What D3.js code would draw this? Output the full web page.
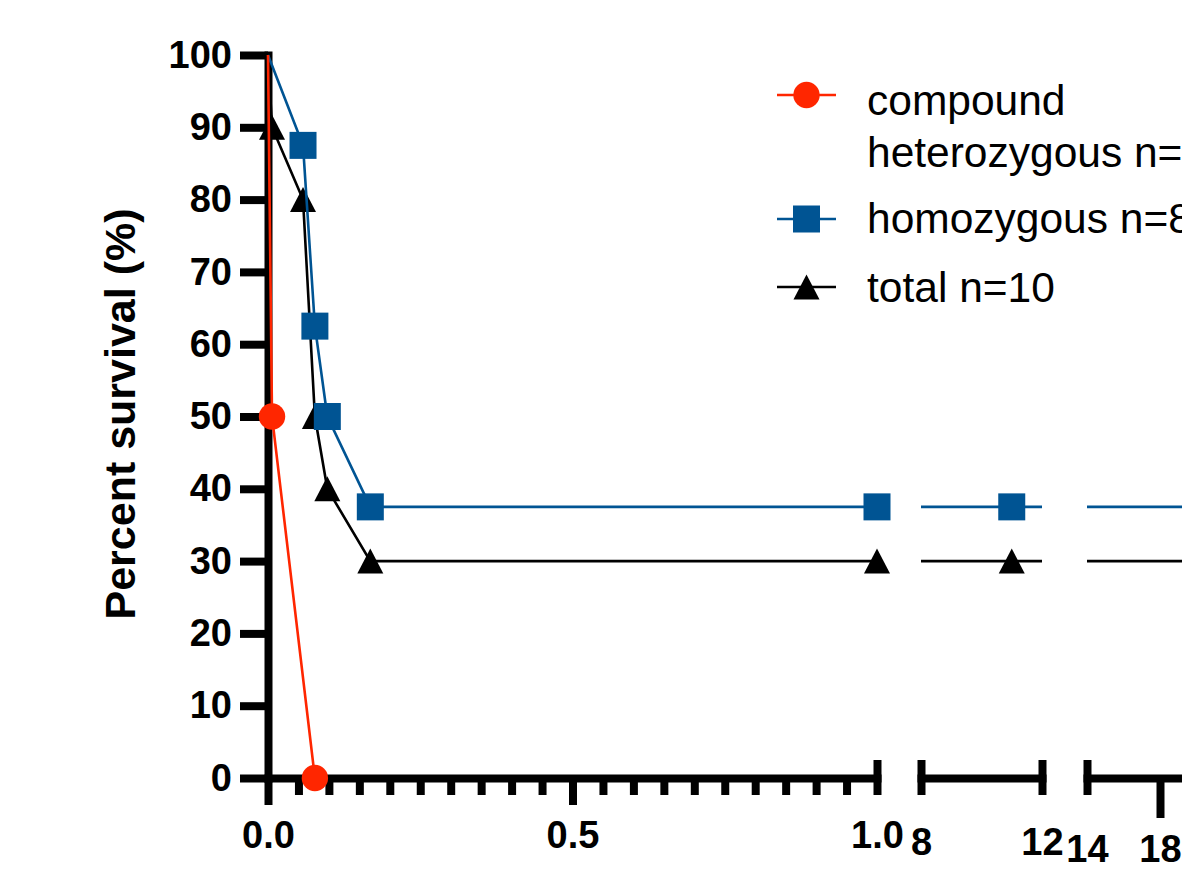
<!DOCTYPE html>
<html>
<head>
<meta charset="utf-8">
<script src="https://cdn.jsdelivr.net/npm/d3@7"></script>
<style>
  body { margin: 0; background: #fff; }
  svg { display: block; }
</style>
</head>
<body>
<svg id="chart"></svg>
<script>
// survival data (time in years, percent surviving)
const compoundTime = [0, 0.0066, 0.077];
const compoundSurv = [100, 50, 0];
const homoTime = [0, 0.0575, 0.077, 0.0974, 0.168, 1.0, 11, 21];
const homoSurv = [100, 87.5, 62.5, 50, 37.5, 37.5, 37.5, 37.5];
const totalTime = [0, 0.0066, 0.0575, 0.077, 0.0974, 0.168, 1.0, 11, 21];
const totalSurv = [100, 90, 80, 50, 40, 30, 30, 30, 30];

const legendLabels = [["compound", "heterozygous n=2"], ["homozygous n=8"], ["total n=10"]];
const yTicks = [0, 10, 20, 30, 40, 50, 60, 70, 80, 90, 100];
const seg1Minor = d3.range(21).map(i => i / 20);
const seg1Major = [0, 0.5, 1.0];
const seg2Ticks = [8, 12];
const seg3Ticks = [14, 18];
const yLabel = "Percent survival (%)";

const width = 1182, height = 891;
const font = '"Liberation Sans", Arial, sans-serif';
const red = "#ff2600", blue = "#005493";

const svg = d3.select("#chart").attr("width", width).attr("height", height);

const y = d3.scaleLinear().domain([0, 100]).range([778, 55]);
const axisY = 778;

// broken x axis: three segments
const segments = [
  { scale: d3.scaleLinear().domain([0, 1]).range([268, 877]), clip: [0, 877], labelY: 70, fmt: d3.format(".1f") },
  { scale: d3.scaleLinear().domain([8, 12]).range([921, 1042]), clip: [921, 1042], labelY: 77, fmt: d3.format("d") },
  { scale: d3.scaleLinear().domain([14, 22]).range([1087, 1233]), clip: [1087, 1300], labelY: 84, fmt: d3.format("d") }
];

function segFor(t) {
  return segments.find(s => t >= s.scale.domain()[0] && t <= s.scale.domain()[1]) || segments[0];
}
function xPos(t) { return segFor(t).scale(t); }

const defs = svg.append("defs");
segments.forEach((s, i) => {
  defs.append("clipPath").attr("id", "clip" + i)
    .append("rect")
    .attr("x", s.clip[0]).attr("y", 0)
    .attr("width", s.clip[1] - s.clip[0]).attr("height", height);
});

// ---- axes ----
function styleAxis(g) {
  g.attr("font-size", 38).attr("font-family", font).attr("font-weight", "bold");
  g.selectAll("path.domain").attr("stroke", "#000").attr("stroke-width", 8).attr("stroke-linecap", "square");
  g.selectAll(".tick line").attr("stroke", "#000").attr("stroke-width", 8);
  g.selectAll(".tick text").attr("fill", "#000");
}

const gy = svg.append("g")
  .attr("transform", "translate(268,0)")
  .call(d3.axisLeft(y).tickValues(yTicks).tickSize(28).tickPadding(8).tickSizeOuter(0));
styleAxis(gy);

// segment 1
const g1 = svg.append("g")
  .attr("transform", `translate(0,${axisY})`)
  .call(d3.axisBottom(segments[0].scale).tickValues(seg1Minor).tickSizeOuter(0)
    .tickFormat(d => seg1Major.some(m => Math.abs(m - d) < 1e-9) ? segments[0].fmt(d) : ""));
styleAxis(g1);
g1.selectAll(".tick line")
  .attr("y1", d => Math.abs(d - 1) < 1e-9 ? -18 : 0)
  .attr("y2", d => Math.abs(d - 1) < 1e-9 ? 17 : (seg1Major.some(m => Math.abs(m - d) < 1e-9) ? 27 : 17));
g1.selectAll(".tick text").attr("y", segments[0].labelY).attr("dy", null);

// segment 2
const g2 = svg.append("g")
  .attr("transform", `translate(0,${axisY})`)
  .call(d3.axisBottom(segments[1].scale).tickValues(seg2Ticks).tickSizeOuter(0).tickFormat(segments[1].fmt));
styleAxis(g2);
g2.selectAll(".tick line").attr("y1", -18).attr("y2", 17);
g2.selectAll(".tick text").attr("y", segments[1].labelY).attr("dy", null);

// segment 3
const g3 = svg.append("g")
  .attr("transform", `translate(0,${axisY})`)
  .call(d3.axisBottom(segments[2].scale).tickValues(seg3Ticks).tickSizeOuter(0).tickFormat(segments[2].fmt));
styleAxis(g3);
g3.selectAll(".tick line")
  .attr("y1", d => d === 14 ? -18 : 0)
  .attr("y2", d => d === 14 ? 17 : 40);
g3.selectAll(".tick text").attr("y", segments[2].labelY).attr("dy", null);

// y axis title
svg.append("text")
  .attr("transform", "translate(135,414) rotate(-90)")
  .attr("text-anchor", "middle")
  .attr("font-family", font).attr("font-weight", "bold").attr("font-size", 43)
  .text(yLabel);

// ---- series ----
const triPath = "M0,-12.5L13,12.5L-13,12.5Z";
const series = [
  { t: totalTime, s: totalSurv, color: "#000", shape: "triangle" },
  { t: homoTime, s: homoSurv, color: blue, shape: "square" },
  { t: compoundTime, s: compoundSurv, color: red, shape: "circle" }
];

function drawMarker(g, shape, color, cx, cy) {
  if (shape === "circle") {
    g.append("circle").attr("cx", cx).attr("cy", cy).attr("r", 13.2).attr("fill", color);
  } else if (shape === "square") {
    g.append("rect").attr("x", cx - 13.5).attr("y", cy - 13.5).attr("width", 27).attr("height", 27).attr("fill", color);
  } else {
    g.append("path").attr("d", triPath).attr("transform", `translate(${cx},${cy})`).attr("fill", color);
  }
}

series.forEach(sr => {
  const pts = sr.t.map((t, i) => ({ t: t, s: sr.s[i] }));
  const g = svg.append("g");
  segments.forEach((seg, i) => {
    const line = d3.line().x(d => seg.scale(d.t)).y(d => y(d.s));
    g.append("path")
      .attr("clip-path", `url(#clip${i})`)
      .attr("d", line(pts))
      .attr("fill", "none")
      .attr("stroke", sr.color)
      .attr("stroke-width", 2.6);
  });
  pts.slice(1).forEach(p => drawMarker(g, sr.shape, sr.color, xPos(p.t), y(p.s)));
});

// ---- legend ----
const legend = svg.append("g");
const legendSym = [
  { y: 95, color: red, shape: "circle", lines: [115, 167] },
  { y: 219, color: blue, shape: "square", lines: [233] },
  { y: 287, color: "#000", shape: "triangle", lines: [302] }
];
legendSym.forEach((d, i) => {
  legend.append("line").attr("x1", 777).attr("x2", 836).attr("y1", d.y).attr("y2", d.y)
    .attr("stroke", d.color).attr("stroke-width", 2.6);
  drawMarker(legend, d.shape, d.color, 806.5, d.y);
  legendLabels[i].forEach((txt, j) => {
    legend.append("text")
      .attr("x", 867).attr("y", d.lines[j])
      .attr("font-family", font).attr("font-size", 42.5)
      .attr("fill", "#000")
      .text(txt);
  });
});
</script>
</body>
</html>
